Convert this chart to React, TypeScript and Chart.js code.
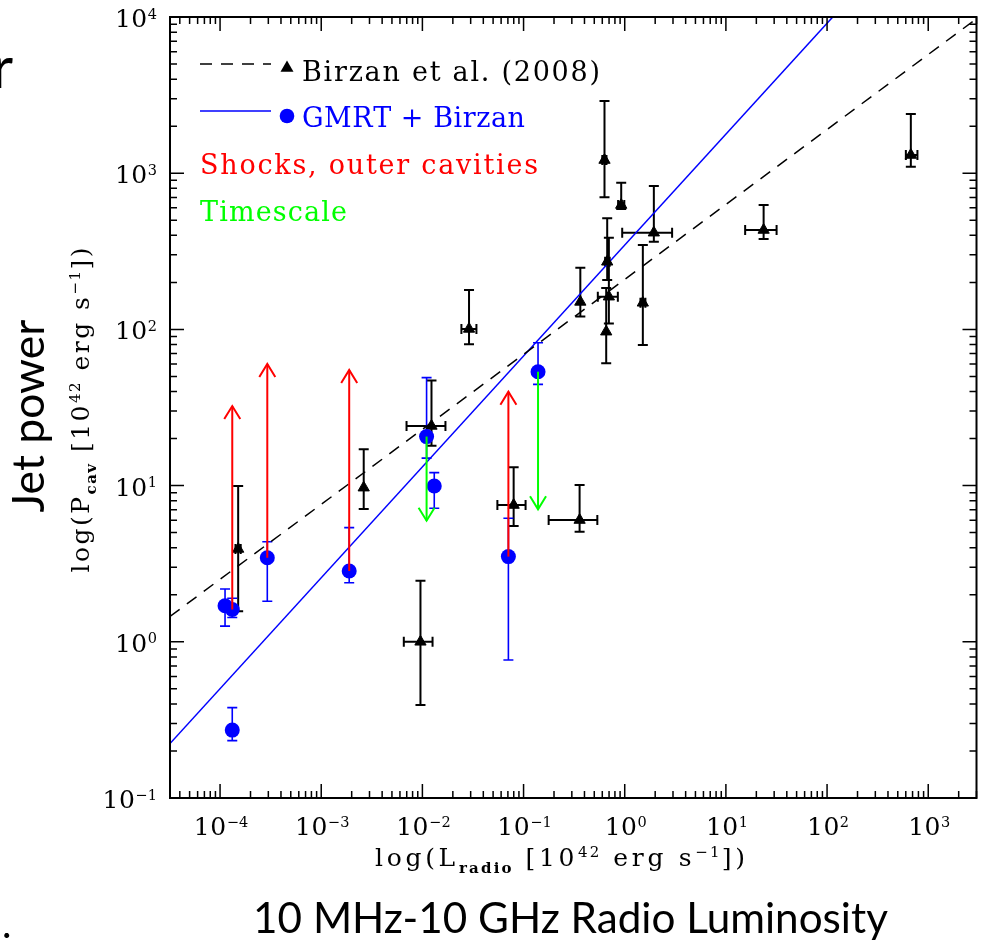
import React, { useEffect, useRef } from "react";
import { Chart, registerables } from "chart.js";

Chart.register(...registerables);

// ---------- axis ranges & ticks ----------
const X_MIN = 3.2e-5;
const X_MAX = 3.0e3;
const Y_MIN = 0.1;
const Y_MAX = 1.0e4;
const xTickExps = [-4, -3, -2, -1, 0, 1, 2, 3];
const yTickExps = [-1, 0, 1, 2, 3, 4];

// ---------- Birzan et al. (2008) sample (black triangles) ----------
const birzanL = [1.51e-4, 2.63e-3, 0.0123, 0.0289, 0.00957, 0.0798, 0.358, 0.631, 0.923, 1.94, 0.671, 0.364, 0.697, 0.656, 1.51, 23.6, 673];
const birzanLLo = [1.42e-4, 2.63e-3, 0.00697, 0.0243, 0.00655, 0.0551, 0.177, 0.6, 0.86, 0.944, 0.64, 0.364, 0.542, 0.656, 1.43, 15.5, 601];
const birzanLHi = [1.6e-4, 2.63e-3, 0.0169, 0.0342, 0.0126, 0.1047, 0.536, 0.66, 0.99, 2.94, 0.71, 0.364, 0.855, 0.656, 1.6, 31.7, 782];
const birzanP = [3.93, 9.7, 24.1, 100.7, 1.0, 7.51, 6.02, 1214, 626, 416, 271, 150, 162, 96.7, 148, 433, 1308];
const birzanPLo = [1.57, 7.08, 18.0, 80.3, 0.394, 5.51, 5.07, 701, 590, 364, 207, 121, 109, 60.7, 79.4, 379, 1101];
const birzanPHi = [9.94, 17.1, 47.0, 179, 2.46, 13.1, 10.1, 2900, 869, 828, 514, 248, 386, 184, 347, 626, 2393];

// ---------- GMRT sample (blue circles) ----------
const gmrtL = [1.12e-4, 1.32e-4, 1.32e-4, 2.93e-4, 1.89e-3, 0.011, 0.0131, 0.0708, 0.139];
const gmrtP = [1.7, 1.61, 0.272, 3.45, 2.84, 20.6, 9.94, 3.51, 53.6];
const gmrtPLo = [1.26, 1.43, 0.233, 1.82, 2.39, 15.0, 7.16, 0.765, 44.5];
const gmrtPHi = [2.18, 1.9, 0.379, 4.37, 5.38, 49.1, 12.1, 6.18, 82.2];

// ---------- arrows ----------
const shockL = [1.32e-4, 2.93e-4, 1.89e-3, 0.0708];
const shockFrom = [1.61, 3.45, 2.84, 3.51];
const shockTo = [32.3, 60.1, 55.0, 39.9];
const timeL = [0.011, 0.139];
const timeFrom = [20.6, 53.6];
const timeTo = [5.96, 7.05];

// ---------- fits: log P = slope * log L + intercept ----------
const birzanSlope = 0.48;
const birzanIntercept = 2.32;
const gmrtSlope = 0.71;
const gmrtIntercept = 2.54;

const BLUE = "#0000ff";
const RED = "#ff0000";
const GREEN = "#00ff00";
const SERIF = '"DejaVu Serif", "Liberation Serif", serif';
const SANS = 'Lato, "Open Sans", sans-serif';

const fitLine = (a: number, b: number) =>
  [X_MIN, X_MAX].map((x) => ({ x, y: Math.pow(10, a * Math.log10(x) + b) }));

type Seg = [string, number]; // 0 normal, 1 subscript, 2 superscript
interface RichOpts {
  size: number;
  family: string;
  color: string;
  align: "left" | "center" | "right";
  width?: number;
  spacing?: number;
  rotate?: boolean;
  small?: number;
  supShift?: number;
  subShift?: number;
  subWeight?: string;
}

function drawRich(ctx: CanvasRenderingContext2D, segs: Seg[], x: number, y: number, o: RichOpts) {
  const ratio = o.small ?? 0.6;
  const smallSize = o.size * ratio;
  const items: { ch: string; font: string; w: number; dy: number; k: number }[] = [];
  let natural = 0;
  let weightSum = 0;
  for (const [t, k] of segs) {
    const sz = k === 0 ? o.size : smallSize;
    const font = `${k === 1 ? o.subWeight ?? "" : ""} ${sz}px ${o.family}`;
    ctx.font = font;
    for (const ch of t) {
      const w = ctx.measureText(ch).width;
      const dy = k === 1 ? o.size * (o.subShift ?? 0.28) : k === 2 ? -o.size * (o.supShift ?? 0.36) : 0;
      items.push({ ch, font, w, dy, k });
      natural += w;
    }
  }
  for (let i = 0; i < items.length - 1; i++) weightSum += items[i].k === 0 ? 1 : ratio;
  const sp = o.width != null ? (o.width - natural) / Math.max(1, weightSum) : o.spacing ?? 0;
  const total = natural + sp * weightSum;
  const start = o.align === "center" ? -total / 2 : o.align === "right" ? -total : 0;
  ctx.save();
  ctx.translate(x, y);
  if (o.rotate) ctx.rotate(-Math.PI / 2);
  ctx.fillStyle = o.color;
  ctx.textBaseline = "alphabetic";
  ctx.textAlign = "left";
  let cx = start;
  for (const it of items) {
    ctx.font = it.font;
    ctx.fillText(it.ch, cx, it.dy);
    cx += it.w + sp * (it.k === 0 ? 1 : ratio);
  }
  ctx.restore();
}

function drawFit(ctx: CanvasRenderingContext2D, text: string, x: number, y: number, width: number, family: string, rotate = false) {
  ctx.save();
  ctx.font = `40px ${family}`;
  const w = ctx.measureText(text).width;
  const size = (40 * width) / w;
  ctx.font = `${size}px ${family}`;
  ctx.translate(x, y);
  if (rotate) ctx.rotate(-Math.PI / 2);
  ctx.fillStyle = "#000";
  ctx.textAlign = "center";
  ctx.textBaseline = "alphabetic";
  ctx.fillText(text, 0, 0);
  ctx.restore();
}

function arrow(ctx: CanvasRenderingContext2D, x: number, y0: number, y1: number, color: string) {
  ctx.save();
  ctx.strokeStyle = color;
  ctx.lineWidth = 2;
  ctx.beginPath();
  ctx.moveTo(x, y0);
  ctx.lineTo(x, y1);
  ctx.stroke();
  const d = y1 < y0 ? 1 : -1;
  ctx.beginPath();
  ctx.moveTo(x - 8, y1 + d * 13);
  ctx.lineTo(x, y1);
  ctx.lineTo(x + 8, y1 + d * 13);
  ctx.stroke();
  ctx.restore();
}

function triangle(ctx: CanvasRenderingContext2D, x: number, y: number, r: number) {
  ctx.beginPath();
  for (let i = 0; i < 3; i++) {
    const a = (i * 2 * Math.PI) / 3;
    const px = x + Math.sin(a) * r;
    const py = y - Math.cos(a) * r;
    if (i === 0) ctx.moveTo(px, py);
    else ctx.lineTo(px, py);
  }
  ctx.closePath();
  ctx.fill();
}

const decorPlugin = {
  id: "decor",
  beforeDatasetsDraw(chart: any) {
    const ctx: CanvasRenderingContext2D = chart.ctx;
    const xs = chart.scales.x;
    const ys = chart.scales.y;
    const cap = 5;
    ctx.save();
    // Birzan error bars
    ctx.strokeStyle = "#000";
    ctx.lineWidth = 2;
    for (let i = 0; i < birzanL.length; i++) {
      const px = xs.getPixelForValue(birzanL[i]);
      const py = ys.getPixelForValue(birzanP[i]);
      const yLo = ys.getPixelForValue(birzanPLo[i]);
      const yHi = ys.getPixelForValue(birzanPHi[i]);
      ctx.beginPath();
      ctx.moveTo(px, yLo); ctx.lineTo(px, yHi);
      ctx.moveTo(px - cap, yLo); ctx.lineTo(px + cap, yLo);
      ctx.moveTo(px - cap, yHi); ctx.lineTo(px + cap, yHi);
      if (birzanLLo[i] !== birzanL[i] || birzanLHi[i] !== birzanL[i]) {
        const xLo = xs.getPixelForValue(birzanLLo[i]);
        const xHi = xs.getPixelForValue(birzanLHi[i]);
        ctx.moveTo(xLo, py); ctx.lineTo(xHi, py);
        ctx.moveTo(xLo, py - cap); ctx.lineTo(xLo, py + cap);
        ctx.moveTo(xHi, py - cap); ctx.lineTo(xHi, py + cap);
      }
      ctx.stroke();
    }
    // GMRT error bars
    ctx.strokeStyle = BLUE;
    ctx.lineWidth = 1.6;
    for (let i = 0; i < gmrtL.length; i++) {
      const px = xs.getPixelForValue(gmrtL[i]);
      const yLo = ys.getPixelForValue(gmrtPLo[i]);
      const yHi = ys.getPixelForValue(gmrtPHi[i]);
      ctx.beginPath();
      ctx.moveTo(px, yLo); ctx.lineTo(px, yHi);
      ctx.moveTo(px - cap, yLo); ctx.lineTo(px + cap, yLo);
      ctx.moveTo(px - cap, yHi); ctx.lineTo(px + cap, yHi);
      ctx.stroke();
    }
    ctx.restore();
  },
  afterDatasetsDraw(chart: any) {
    const ctx: CanvasRenderingContext2D = chart.ctx;
    const xs = chart.scales.x;
    const ys = chart.scales.y;
    for (let i = 0; i < shockL.length; i++) {
      arrow(ctx, xs.getPixelForValue(shockL[i]), ys.getPixelForValue(shockFrom[i]), ys.getPixelForValue(shockTo[i]), RED);
    }
    for (let i = 0; i < timeL.length; i++) {
      arrow(ctx, xs.getPixelForValue(timeL[i]), ys.getPixelForValue(timeFrom[i]), ys.getPixelForValue(timeTo[i]), GREEN);
    }
  },
  afterDraw(chart: any) {
    const ctx: CanvasRenderingContext2D = chart.ctx;
    const xs = chart.scales.x;
    const ys = chart.scales.y;
    const { left, right, top, bottom } = chart.chartArea;
    ctx.save();
    // ticks
    ctx.strokeStyle = "#000";
    ctx.lineWidth = 1.5;
    ctx.beginPath();
    for (let d = Math.floor(Math.log10(X_MIN)); d <= Math.ceil(Math.log10(X_MAX)); d++) {
      for (let m = 1; m <= 9; m++) {
        const v = m * Math.pow(10, d);
        if (v < X_MIN || v > X_MAX) continue;
        const p = xs.getPixelForValue(v);
        const len = m === 1 ? 14 : 7;
        ctx.moveTo(p, bottom); ctx.lineTo(p, bottom - len);
        ctx.moveTo(p, top); ctx.lineTo(p, top + len);
      }
    }
    for (let d = Math.floor(Math.log10(Y_MIN)); d <= Math.ceil(Math.log10(Y_MAX)); d++) {
      for (let m = 1; m <= 9; m++) {
        const v = m * Math.pow(10, d);
        if (v < Y_MIN * 0.999 || v > Y_MAX * 1.001) continue;
        const p = ys.getPixelForValue(v);
        const len = m === 1 ? 14 : 7;
        ctx.moveTo(left, p); ctx.lineTo(left + len, p);
        ctx.moveTo(right, p); ctx.lineTo(right - len, p);
      }
    }
    ctx.stroke();
    // frame
    ctx.lineWidth = 2;
    ctx.strokeRect(left, top, right - left, bottom - top);
    ctx.restore();

    // tick labels
    const tickOpts: RichOpts = { size: 25, family: SERIF, color: "#000", align: "center", spacing: 0.5, small: 0.58, supShift: 0.34 };
    for (const e of xTickExps) {
      const p = xs.getPixelForValue(Math.pow(10, e));
      drawRich(ctx, [["10", 0], [String(e).replace("-", "\u2212"), 2]], p + 1, 835, tickOpts);
    }
    for (const e of yTickExps) {
      const p = ys.getPixelForValue(Math.pow(10, e));
      drawRich(ctx, [["10", 0], [String(e).replace("-", "\u2212"), 2]], 157, p + 10, { ...tickOpts, align: "right" });
    }

    // axis titles
    drawRich(
      ctx,
      [["log(L", 0], ["radio", 1], [" [10", 0], ["42", 2], [" erg s", 0], ["\u22121", 2], ["])", 0]],
      560, 866,
      { size: 25, family: SERIF, color: "#000", align: "center", width: 370, small: 0.6, subWeight: "bold" }
    );
    drawRich(
      ctx,
      [["log(P", 0], ["cav", 1], [" [10", 0], ["42", 2], [" erg s", 0], ["\u22121", 2], ["])", 0]],
      89, 410,
      { size: 25, family: SERIF, color: "#000", align: "center", width: 325, small: 0.6, subWeight: "bold", rotate: true }
    );

    // legend
    ctx.save();
    ctx.strokeStyle = "#000";
    ctx.lineWidth = 1.5;
    ctx.setLineDash([12, 9]);
    ctx.beginPath(); ctx.moveTo(200, 64); ctx.lineTo(271, 64); ctx.stroke();
    ctx.setLineDash([]);
    ctx.fillStyle = "#000";
    triangle(ctx, 287, 68, 7.5);
    ctx.strokeStyle = BLUE;
    ctx.beginPath(); ctx.moveTo(200, 111); ctx.lineTo(271, 111); ctx.stroke();
    ctx.fillStyle = BLUE;
    ctx.beginPath(); ctx.arc(287, 116, 7.3, 0, Math.PI * 2); ctx.fill();
    ctx.restore();
    const legOpts = { size: 27, family: SERIF, align: "left" as const };
    drawRich(ctx, [["Birzan et al. (2008)", 0]], 302, 81, { ...legOpts, color: "#000", width: 298 });
    drawRich(ctx, [["GMRT + Birzan", 0]], 302, 127, { ...legOpts, color: BLUE, width: 223 });
    drawRich(ctx, [["Shocks, outer cavities", 0]], 200, 174, { ...legOpts, color: RED, width: 338 });
    drawRich(ctx, [["Timescale", 0]], 200, 221, { ...legOpts, color: GREEN, width: 147 });

    // slide captions
    drawFit(ctx, "Jet power", 44, 416, 193, SANS, true);
    drawFit(ctx, "10 MHz-10 GHz Radio Luminosity", 570.5, 933, 635, SANS);
    ctx.save();
    ctx.fillStyle = "#000";
    ctx.font = `58px ${SANS}`;
    ctx.textAlign = "right";
    ctx.fillText("r", 13, 88);
    ctx.font = `40px ${SANS}`;
    ctx.textAlign = "left";
    ctx.fillText(".", 2, 938);
    ctx.restore();
  },
};

export default function App() {
  const ref = useRef<HTMLCanvasElement>(null);
  useEffect(() => {
    const canvas = ref.current;
    if (!canvas) return;
    const chart = new Chart(canvas, {
      type: "scatter",
      data: {
        datasets: [
          {
            label: "Birzan fit",
            data: fitLine(birzanSlope, birzanIntercept),
            showLine: true,
            borderColor: "#000",
            borderWidth: 1.5,
            borderDash: [12, 9],
            pointRadius: 0,
            order: 3,
          },
          {
            label: "GMRT fit",
            data: fitLine(gmrtSlope, gmrtIntercept),
            showLine: true,
            borderColor: BLUE,
            borderWidth: 1.5,
            pointRadius: 0,
            order: 3,
          },
          {
            label: "Birzan et al. (2008)",
            data: birzanL.map((x, i) => ({ x, y: birzanP[i] })),
            pointStyle: "triangle",
            pointRadius: 6.5,
            backgroundColor: "#000",
            borderColor: "#000",
            borderWidth: 1,
            order: 2,
          },
          {
            label: "GMRT + Birzan",
            data: gmrtL.map((x, i) => ({ x, y: gmrtP[i] })),
            pointStyle: "circle",
            pointRadius: 7.5,
            backgroundColor: BLUE,
            borderColor: BLUE,
            borderWidth: 0,
            order: 1,
          },
        ],
      } as any,
      options: {
        responsive: false,
        animation: false,
        devicePixelRatio: 1,
        events: [],
        layout: { padding: { top: 17, right: 7, left: 0, bottom: 0 } },
        plugins: { legend: { display: false }, tooltip: { enabled: false } },
        scales: {
          x: {
            type: "logarithmic",
            min: X_MIN,
            max: X_MAX,
            position: "bottom",
            grid: { display: false },
            border: { display: false },
            ticks: { display: false },
            afterFit(s: any) {
              s.height = 144;
            },
          },
          y: {
            type: "logarithmic",
            min: Y_MIN,
            max: Y_MAX,
            position: "left",
            grid: { display: false },
            border: { display: false },
            ticks: { display: false },
            afterFit(s: any) {
              s.width = 170;
            },
          },
        },
      } as any,
      plugins: [decorPlugin],
    });
    return () => chart.destroy();
  }, []);
  return (
    <div style={{ position: "fixed", left: 0, top: 0, width: 984, height: 942, background: "#fff" }}>
      <canvas ref={ref} width={984} height={942} style={{ display: "block", width: 984, height: 942 }} />
    </div>
  );
}
